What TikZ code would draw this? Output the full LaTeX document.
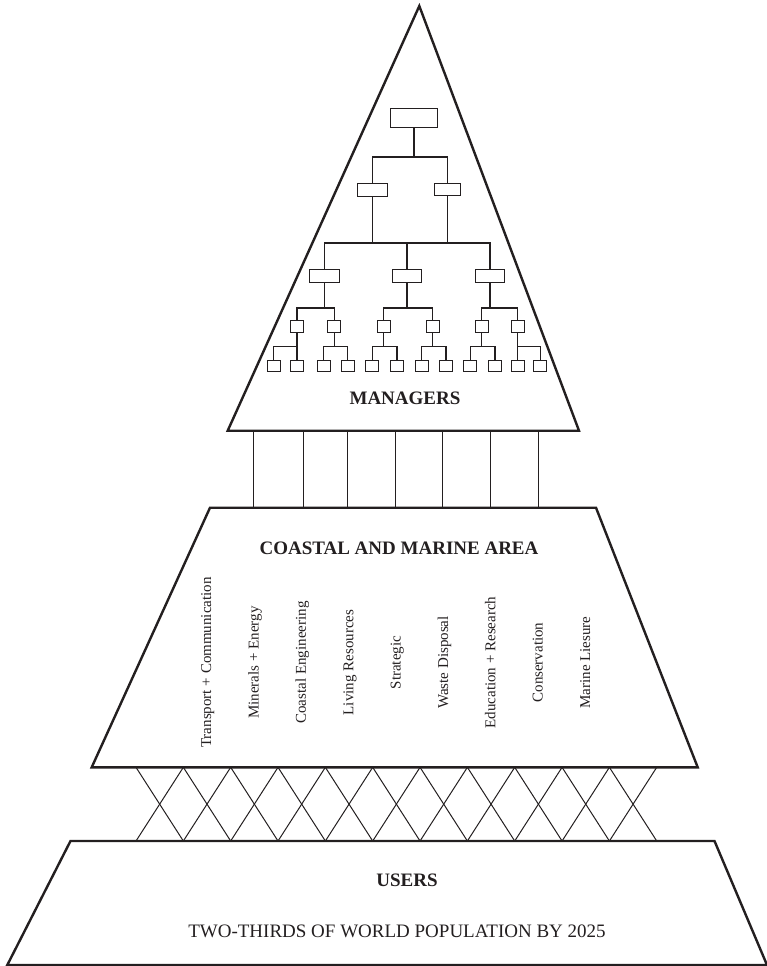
\documentclass[tikz,border=0pt]{standalone}
\usepackage{fontspec}
\setmainfont{Liberation Serif}
\definecolor{inkc}{RGB}{35,31,32}
\begin{document}
\begin{tikzpicture}[x=1pt,y=-1pt,
  shapeline/.style={draw=inkc, line width=2.4pt, line join=miter},
  orgbox/.style={draw=inkc, line width=1.1pt, inner sep=0pt, rectangle},
  wire/.style={draw=inkc, line width=1.1pt},
  tie/.style={draw=inkc, line width=1pt},
  headtext/.style={font=\fontsize{19}{22}\selectfont\bfseries, text=inkc, inner sep=0pt},
  plaintext/.style={font=\fontsize{19}{22}\selectfont, text=inkc, inner sep=0pt},
  sector/.style={font=\fontsize{15}{18}\selectfont, text=inkc, rotate=90, anchor=base, inner sep=0pt},
]
\useasboundingbox (0,0) rectangle (767,966);

% ---- main shapes ----
\coordinate (T1) at (419.3,6);
\coordinate (T2) at (579,430.7);
\coordinate (T3) at (227.7,430.7);
\coordinate (M1) at (210,507.7);
\coordinate (M2) at (596,507.7);
\coordinate (M3) at (697.7,767.3);
\coordinate (M4) at (91.7,767.3);
\coordinate (U1) at (70.5,841);
\coordinate (U2) at (714.5,841);
\coordinate (U3) at (767,965);
\coordinate (U4) at (7.3,965);

\draw[shapeline] (T1) -- (T2) -- (T3) -- cycle;
\draw[shapeline] (M1) -- (M2) -- (M3) -- (M4) -- cycle;
\draw[shapeline] (U1) -- (U2) -- (U3) -- (U4) -- cycle;

% ---- ties between managers and area ----
\foreach \x in {253.3,303.3,347.7,395,442.7,490,538.7}
  \draw[tie] (\x,0 |- T3) -- (\x,0 |- M1);

% ---- cross-hatching between area and users ----
\foreach \k in {0,...,10} {
  \draw[tie] ({136+47.34*\k},0 |- M4) -- ({136+47.34*(\k+1)},0 |- U1);
  \draw[tie] ({136+47.34*(\k+1)},0 |- M4) -- ({136+47.34*\k},0 |- U1);
}

% ---- organisation chart ----
\node[orgbox, minimum width=47pt, minimum height=19pt] (a1) at (414,118) {};
\node[orgbox, minimum width=30pt, minimum height=13pt] (b1) at (372.5,190) {};
\node[orgbox, minimum width=26pt, minimum height=12pt] (b2) at (447.5,189.5) {};
\node[orgbox, minimum width=30pt, minimum height=13pt] (c1) at (324.5,276) {};
\node[orgbox, minimum width=29pt, minimum height=13pt] (c2) at (407,276) {};
\node[orgbox, minimum width=29pt, minimum height=13pt] (c3) at (490,276) {};
\foreach \x [count=\i] in {297,334.3,383.7,432.7,481.7,517.7}
  \node[orgbox, minimum width=13pt, minimum height=12pt] (d\i) at (\x,326.7) {};
\foreach \x [count=\i] in {273.8,297,323.7,347.7,372.3,397,421.7,446,470.3,495,517.7,540.3}
  \node[orgbox, minimum width=13pt, minimum height=11pt] (e\i) at (\x,365.8) {};

% level 1 -> 2
\draw[wire] (a1.south) -- (a1.south |- 0,157);
\draw[wire] (b1.north) -- (b1.north |- 0,157) -- (b2.north |- 0,157) -- (b2.north);
% level 2 -> 3
\draw[wire] (b1.south) -- (b1.south |- 0,243);
\draw[wire] (b2.south) -- (b2.south |- 0,243);
\draw[wire] (c1.north) -- (c1.north |- 0,243) -- (c3.north |- 0,243) -- (c3.north);
\draw[wire] (c2.north) -- (c2.north |- 0,243);
% level 3 -> 4
\foreach \p/\a/\b in {c1/d1/d2, c2/d3/d4, c3/d5/d6} {
  \draw[wire] (\p.south) -- (\p.south |- 0,308);
  \draw[wire] (\a.north) -- (\a.north |- 0,308) -- (\b.north |- 0,308) -- (\b.north);
}
% level 4 -> 5
\foreach \i in {1,...,6} {
  \pgfmathtruncatemacro\ja{2*\i-1}
  \pgfmathtruncatemacro\jb{2*\i}
  \draw[wire] (d\i.south) -- (d\i.south |- 0,346.7);
  \draw[wire] (e\ja.north) -- (e\ja.north |- 0,346.7) -- (e\jb.north |- 0,346.7) -- (e\jb.north);
}

% ---- texts ----
\node[headtext] (mgr) at (405,398) {MANAGERS};
\node[headtext] (cma) at (399,548) {COASTAL AND MARINE AREA};
\node[headtext] (usr) at (407,880) {USERS};
\node[plaintext] (pop) at (397,931) {TWO-THIRDS OF WORLD POPULATION BY 2025};

\foreach \t [count=\i] in {Transport + Communication, Minerals + Energy, Coastal Engineering, Living Resources, Strategic, Waste Disposal, Education + Research, Conservation, Marine Liesure}
  \node[sector] (s\i) at ({206.7+47.36*(\i-1)+4.5},662.5) {\t};
\end{tikzpicture}
\end{document}
